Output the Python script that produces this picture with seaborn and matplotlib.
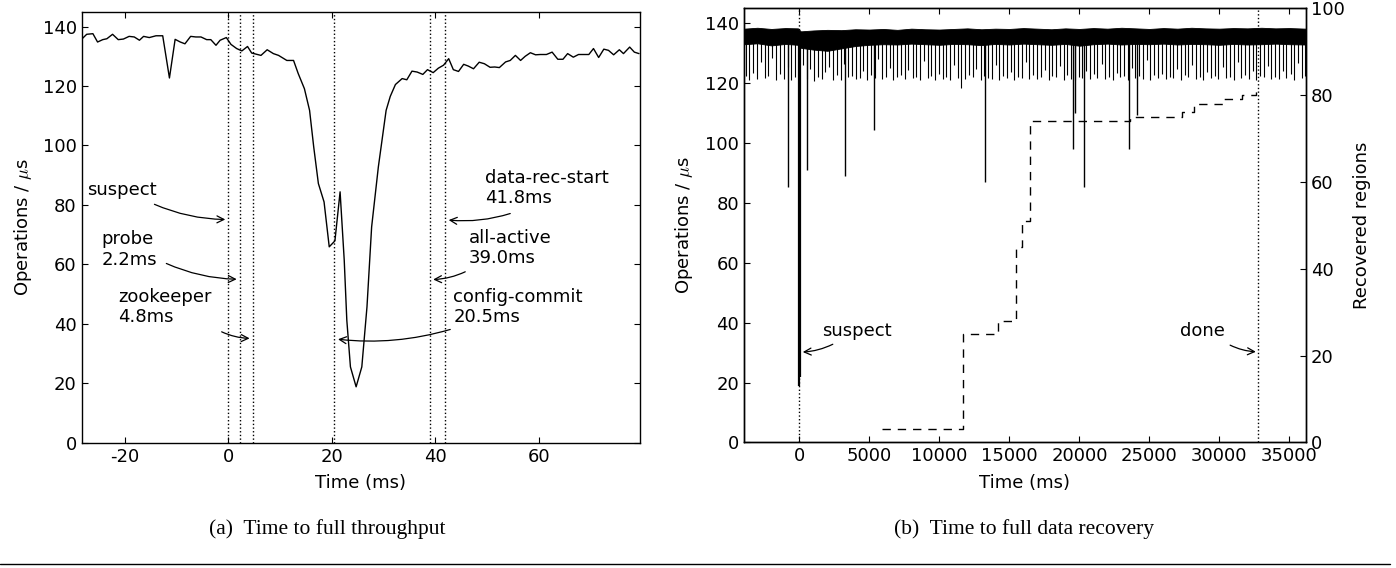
import numpy as np
import pandas as pd
import matplotlib
matplotlib.use("Agg")
import matplotlib.pyplot as plt
import seaborn as sns
from matplotlib.lines import Line2D

# ---------------- Left panel: time to full throughput ----------------
left_time = [-28.4, -27.4, -26.2, -25.3, -24.3, -23.5, -22.4, -21.3, -20.3, -19.2,
             -18.2, -17.2, -16.4, -15.3, -14.0, -12.7, -11.4, -10.3, -9.3, -8.4,
             -7.3, -6.3, -5.3, -4.2, -3.4, -2.4, -1.6, -0.4, 0.5, 1.6,
             2.6, 3.7, 4.5, 6.3, 7.5, 8.7, 9.7, 11.3, 12.6, 13.5,
             14.7, 15.7, 16.5, 17.4, 18.5, 19.5, 20.6, 21.6, 22.4, 22.9,
             23.6, 24.7, 25.8, 26.8, 27.7, 29.0, 30.5, 31.3, 32.3, 33.6,
             34.5, 35.5, 36.5, 37.6, 38.5, 39.6, 40.6, 41.6, 42.6, 43.5,
             44.5, 45.5, 46.4, 47.4, 48.5, 49.5, 50.6, 51.5, 52.4, 53.6,
             54.5, 55.5, 56.5, 57.4, 58.4, 59.4, 60.3, 61.5, 62.6, 63.7,
             64.7, 65.6, 66.7, 67.7, 68.9, 69.7, 70.6, 71.6, 72.6, 73.5,
             74.5, 75.6, 76.4, 77.6, 78.5, 79.4]
left_ops = [135.7, 137.4, 137.6, 134.8, 135.6, 135.9, 137.4, 135.6, 135.8, 136.7,
            136.5, 135.4, 136.7, 136.3, 136.9, 136.9, 122.7, 135.7, 134.8, 134.2,
            136.7, 136.5, 136.5, 135.6, 135.6, 133.7, 135.4, 136.3, 134.0, 132.6,
            131.8, 133.3, 131.1, 130.3, 132.2, 130.9, 130.3, 128.6, 128.6, 124.2,
            119.1, 111.8, 99.5, 87.2, 81.0, 65.9, 67.9, 84.4, 61.4, 41.2,
            25.5, 18.8, 25.5, 45.7, 72.6, 92.8, 111.8, 116.5, 120.5, 122.5,
            122.1, 125.0, 124.7, 123.9, 125.5, 124.5, 126.0, 127.0, 129.2, 125.5,
            124.9, 127.3, 126.7, 125.8, 128.0, 127.5, 126.3, 126.4, 126.2, 128.1,
            128.6, 130.3, 128.6, 130.0, 131.2, 130.5, 130.6, 130.6, 131.4, 129.0,
            129.0, 130.9, 129.7, 130.6, 130.6, 130.6, 132.6, 129.6, 132.4, 132.0,
            130.5, 132.2, 130.9, 133.1, 131.4, 130.9]

left_events = [0.0, 2.2, 4.8, 20.5, 39.0, 41.8]
left_labels = ["suspect", "probe\n2.2ms", "zookeeper\n4.8ms",
               "config-commit\n20.5ms", "all-active\n39.0ms", "data-rec-start\n41.8ms"]
left_label_xy = [(-27.4, 84.9), (-24.5, 65.0), (-21.3, 45.8),
                 (43.5, 45.8), (46.5, 65.6), (49.7, 85.8)]
left_arrow_from = [(-14.3, 80.2), (-12.0, 60.3), (-1.3, 37.3),
                   (42.9, 38.1), (45.8, 57.5), (54.5, 77.1)]
left_arrow_to = [(-0.6, 75.1), (1.6, 55.0), (4.1, 35.1),
                 (21.2, 34.8), (39.6, 54.9), (42.6, 74.9)]

# ---------------- Right panel: time to full data recovery ----------------
band_t = [-3950, -3000, -2000, -1000, -100, 100, 1000, 2000, 3000, 4000,
          5000, 6000, 7000, 8000, 9000, 10000, 11000, 12000, 13000, 14000,
          15000, 16000, 17000, 18000, 19000, 20000, 21000, 22000, 23000, 24000,
          25000, 26000, 27000, 28000, 29000, 30000, 31000, 32000, 33000, 34000,
          35000, 36170]
band_hi = [138.2, 138.5, 138.1, 138.4, 138.3, 137.3, 137.6, 137.8, 137.7, 138.0,
           137.9, 138.1, 137.8, 138.2, 138.0, 137.9, 138.1, 138.3, 138.0, 138.2,
           138.1, 138.4, 138.2, 138.0, 138.3, 138.1, 138.4, 138.2, 138.5, 138.3,
           138.1, 138.4, 138.2, 138.5, 138.3, 138.2, 138.4, 138.3, 138.5, 138.3,
           138.4, 138.2]
band_lo = [133.0, 133.3, 132.6, 133.1, 132.8, 131.8, 131.2, 130.8, 131.6, 132.4,
           132.8, 133.0, 132.9, 133.2, 133.0, 132.8, 133.1, 133.0, 132.7, 133.1,
           132.9, 133.2, 133.0, 132.8, 133.1, 132.5, 133.0, 133.2, 132.9, 133.1,
           133.0, 133.2, 132.9, 133.1, 133.0, 132.8, 133.1, 132.9, 133.0, 133.2,
           133.0, 132.9]

comb_t = [-3830, -3580, -3290, -3020, -2760, -2470, -2210, -1920, -1660, -1370,
          -1110, -820, -570, -290, -60, 250, 530, 780, 1070, 1320,
          1600, 1860, 2140, 2390, 2690, 2940, 3220, 3470, 3760, 4010,
          4300, 4550, 4840, 5090, 5380, 5630, 5920, 6170, 6460, 6710,
          7000, 7250, 7540, 7790, 8080, 8330, 8620, 8870, 9160, 9410,
          9700, 9950, 10240, 10490, 10780, 11030, 11320, 11570, 11860, 12110,
          12400, 12650, 12940, 13190, 13480, 13730, 14020, 14270, 14560, 14810,
          15100, 15350, 15640, 15890, 16180, 16430, 16720, 16970, 17260, 17510,
          17800, 18050, 18340, 18590, 18880, 19130, 19420, 19670, 19960, 20210,
          20500, 20750, 21040, 21290, 21580, 21830, 22120, 22370, 22660, 22910,
          23200, 23450, 23740, 23990, 24280, 24530, 24820, 25070, 25360, 25610,
          25900, 26150, 26440, 26690, 26980, 27230, 27520, 27770, 28060, 28310,
          28600, 28850, 29140, 29390, 29680, 29930, 30220, 30470, 30760, 31010,
          31300, 31550, 31840, 32090, 32380, 32630, 32920, 33170, 33460, 33710,
          34000, 34250, 34540, 34790, 35080, 35330, 35620, 35870, 36100]
comb_v = [122.5, 121.0, 123.5, 121.5, 127.0, 121.8, 122.4, 128.5, 121.2, 123.0,
          121.4, 125.5, 121.0, 122.2, 121.6, 126.0, 121.3, 124.8, 120.8, 122.0,
          121.5, 123.7, 125.5, 121.2, 122.8, 121.0, 126.5, 121.9, 122.4, 121.3,
          121.7, 124.0, 121.2, 122.6, 121.8, 128.0, 121.4, 122.1, 125.2, 121.0,
          121.9, 122.7, 121.3, 124.4, 121.6, 122.0, 121.1, 127.5, 121.8, 122.4,
          121.2, 123.0, 121.5, 122.2, 121.0, 126.0, 121.7, 118.5, 121.3, 122.6,
          121.9, 124.6, 121.1, 122.3, 121.8, 121.4, 125.9, 121.0, 122.5, 121.6,
          123.8, 121.2, 122.1, 121.7, 127.2, 121.3, 122.8, 121.5, 122.0, 124.3,
          121.1, 122.4, 121.9, 125.6, 121.2, 122.7, 121.4, 121.0, 122.2, 121.6,
          124.1, 121.3, 122.9, 121.8, 126.4, 121.5, 122.0, 121.2, 123.4, 121.9,
          122.3, 121.1, 125.0, 121.7, 122.5, 121.4, 127.8, 121.0, 122.6, 121.8,
          123.2, 121.3, 122.1, 121.6, 124.7, 121.2, 122.8, 121.9, 126.1, 121.5,
          122.0, 121.1, 123.6, 121.7, 122.4, 121.3, 125.3, 121.8, 122.2, 121.0,
          127.0, 121.6, 122.7, 121.4, 123.9, 121.2, 122.3, 121.9, 125.7, 121.5,
          122.1, 121.3, 124.2, 121.7, 122.9, 121.1, 126.6, 121.8, 122.4]

spike_t = [-790, 530, 3260, 5340, 13260, 19570, 19700, 20360, 23570, 24100]
spike_v = [85.2, 90.9, 88.9, 104.2, 86.9, 98.0, 110.0, 85.3, 98.0, 109.4]
suspect_drop_t = [0, 60]
suspect_drop_v = [18.9, 22.0]

recov_t = [5900, 11700, 14200, 15500, 15900, 16450, 23600, 27300, 28150, 30300, 31600, 32600]
recov_v = [3, 25, 28, 45, 51, 74, 75, 76, 78, 79, 80, 82]

right_events = [0, 32786]

# ---------------- Style ----------------
sns.set_style("ticks", {
    "xtick.direction": "in", "ytick.direction": "in",
    "xtick.top": True, "ytick.right": True,
    "axes.edgecolor": "black", "xtick.color": "black", "ytick.color": "black",
    "axes.labelcolor": "black", "text.color": "black",
})
plt.rcParams['font.family'] = ['DejaVu Sans']
plt.rcParams['axes.unicode_minus'] = False
plt.rcParams['mathtext.fontset'] = 'cm'
plt.rcParams['axes.linewidth'] = 1.0
plt.rcParams['xtick.major.size'] = 4
plt.rcParams['ytick.major.size'] = 4
plt.rcParams['xtick.major.width'] = 0.8
plt.rcParams['ytick.major.width'] = 0.8

FS = 13
fig = plt.figure(figsize=(13.96, 5.68), dpi=100)
ax1 = fig.add_axes([0.0584, 0.2206, 0.3997, 0.7588])
ax2 = fig.add_axes([0.533, 0.2210, 0.4024, 0.7644])

arrow_kw = dict(arrowstyle="->,head_length=0.5,head_width=0.25", color="black",
                lw=0.9, shrinkA=0, shrinkB=0)

# Left panel
df_left = pd.DataFrame({"time": left_time, "ops": left_ops})
sns.lineplot(data=df_left, x="time", y="ops", ax=ax1, color="black", lw=1.0,
             estimator=None, sort=False)
for t in left_events:
    ax1.axvline(t, color="black", ls=":", lw=1.0)
for lab, (tx, ty), a0, a1 in zip(left_labels, left_label_xy, left_arrow_from, left_arrow_to):
    ax1.text(tx, ty, lab, ha="left", va="center", fontsize=FS, linespacing=1.15)
    rad = 0.1 if a1[0] > a0[0] else -0.1
    ax1.annotate("", xy=a1, xytext=a0,
                 arrowprops=dict(connectionstyle=f"arc3,rad={rad}", **arrow_kw))
ax1.set_xlim(-28.4, 79.5)
ax1.set_ylim(0, 145)
ax1.set_xticks([-20, 0, 20, 40, 60])
ax1.set_yticks([0, 20, 40, 60, 80, 100, 120, 140])
ax1.set_xlabel("Time (ms)", fontsize=FS)
ax1.set_ylabel(r"Operations / $\mu$s", fontsize=FS)
ax1.tick_params(labelsize=FS, top=True, right=True)
ax1.xaxis.set_label_coords(0.5, -0.072)
ax1.yaxis.set_label_coords(-0.085, 0.5)

# Right panel
ax2.fill_between(band_t, band_lo, band_hi, color="black", lw=0.6)
ax2.vlines(comb_t, comb_v, 133.5, color="black", lw=0.8)
ax2.vlines(spike_t, spike_v, 133.5, color="black", lw=1.0)
ax2.vlines(suspect_drop_t, suspect_drop_v, 133.5, color="black", lw=1.6)
ax2.axvline(right_events[0], color="black", ls=":", lw=1.0, zorder=0)
ax2.axvline(right_events[1], color="black", ls=":", lw=1.0)
ax2.text(1600, 37.1, "suspect", ha="left", va="center", fontsize=FS)
ax2.annotate("", xy=(243, 30.2), xytext=(2386, 32.8),
             arrowprops=dict(connectionstyle="arc3,rad=-0.1", **arrow_kw))
ax2.text(27193, 37.2, "done", ha="left", va="center", fontsize=FS)
ax2.annotate("", xy=(32600, 30.3), xytext=(30764, 32.5),
             arrowprops=dict(connectionstyle="arc3,rad=0.1", **arrow_kw))
ax2.set_xlim(-3950, 36170)
ax2.set_ylim(0, 145)
ax2.set_xticks([0, 5000, 10000, 15000, 20000, 25000, 30000, 35000])
ax2.set_yticks([0, 20, 40, 60, 80, 100, 120, 140])
ax2.set_xlabel("Time (ms)", fontsize=FS)
ax2.set_ylabel(r"Operations / $\mu$s", fontsize=FS)
ax2.tick_params(labelsize=FS, top=True, right=False)
ax2.xaxis.set_label_coords(0.5, -0.072)
ax2.yaxis.set_label_coords(-0.087, 0.5)

ax3 = ax2.twinx()
df_rec = pd.DataFrame({"time": recov_t, "regions": recov_v})
sns.lineplot(data=df_rec, x="time", y="regions", ax=ax3, color="black", lw=1.0,
             ls=(0, (6, 5)), drawstyle="steps-post", estimator=None, sort=False)
ax3.set_ylim(0, 100)
ax3.set_yticks([0, 20, 40, 60, 80, 100])
ax3.set_ylabel("Recovered regions", fontsize=FS)
ax3.tick_params(labelsize=FS, direction="in", right=True)
ax3.yaxis.set_label_coords(1.084, 0.5)
ax3.set_xlim(-3950, 36170)

# Captions
fig.text(327 / 1396, 1 - 529 / 568, "(a)  Time to full throughput", ha="center",
         va="center", fontsize=15.5, family="Liberation Serif")
fig.text(1024 / 1396, 1 - 529 / 568, "(b)  Time to full data recovery", ha="center",
         va="center", fontsize=15.5, family="Liberation Serif")
fig.add_artist(Line2D([0.0, 0.996], [1 - 564 / 568] * 2, transform=fig.transFigure,
                      color="black", lw=1.0))

fig.savefig("out.png", dpi=100)
